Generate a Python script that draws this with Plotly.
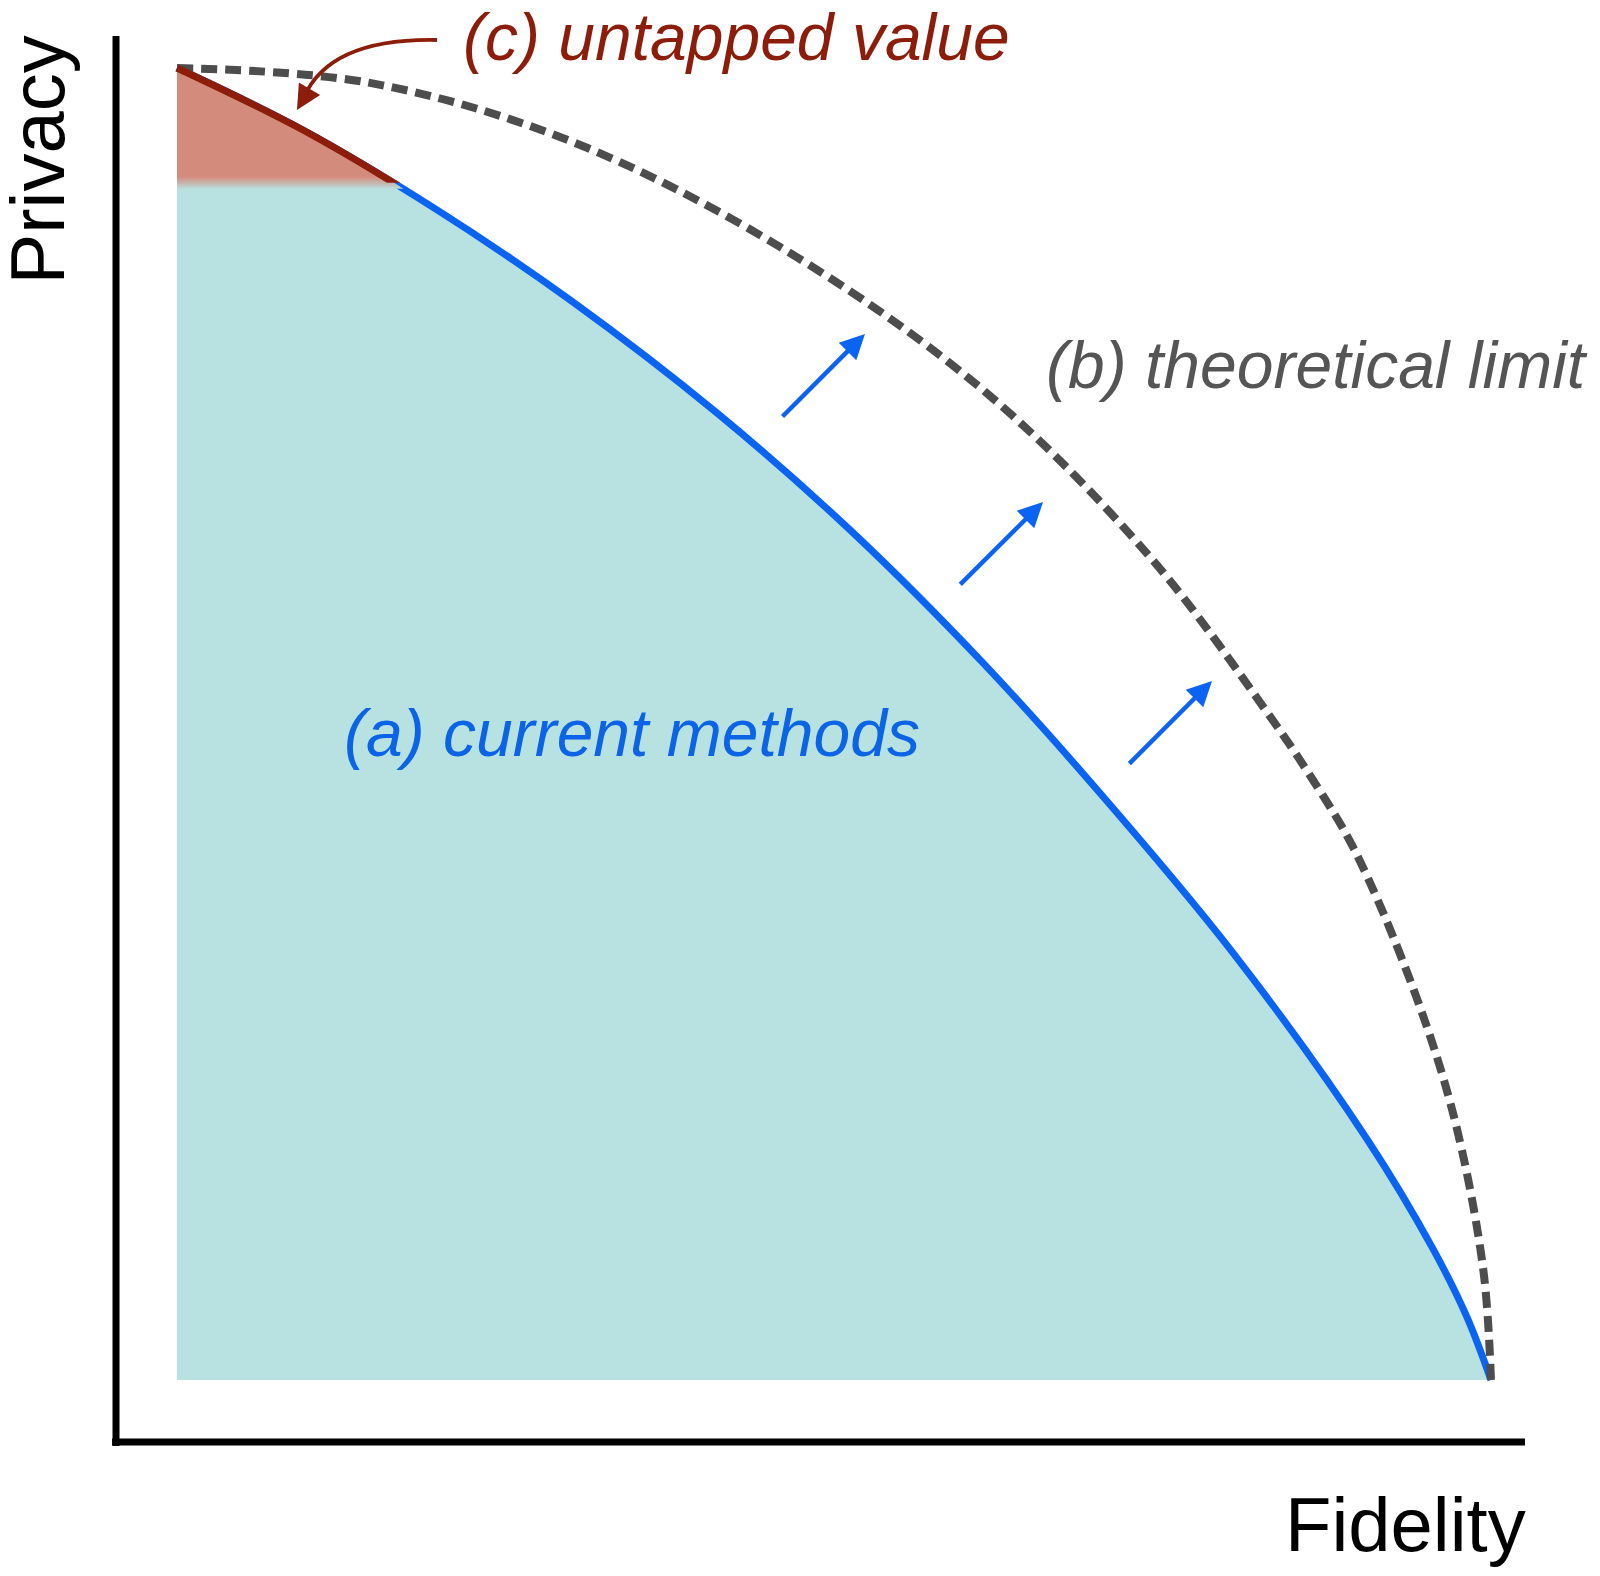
import plotly.graph_objects as go

# current methods frontier (blue), normalised fidelity / privacy
fidelity_current = [0.0, 0.0959, 0.1979, 0.2991, 0.411, 0.5122, 0.6134, 0.7024,
                    0.8037, 0.9056, 0.9559, 0.9817, 1.0]
privacy_current = [1.0, 0.9527, 0.8918, 0.8232, 0.737, 0.6479, 0.5465, 0.4474,
                   0.3255, 0.1837, 0.0999, 0.048, 0.0]

# theoretical limit (dashed)
fidelity_limit = [0.0, 0.1469, 0.2991, 0.4589, 0.6134, 0.7405, 0.8295, 0.8645, 0.895,
                  0.9384, 0.9711, 0.9939, 1.0]
privacy_limit = [1.0, 0.9886, 0.9444, 0.8636, 0.7546, 0.6273, 0.5091, 0.4573, 0.4062,
                 0.3049, 0.2035, 0.0861, 0.0]

# untapped value region (red) sits above this privacy band
untapped_top = 0.9165
untapped_bottom = 0.9080
red_line_end = 0.9125

# improvement arrows (tail -> head)
arrow_tail_x = [0.4597, 0.595, 0.7237]
arrow_tail_y = [0.7332, 0.6052, 0.4687]
arrow_head_x = [0.5236, 0.6591, 0.7877]
arrow_head_y = [0.7973, 0.6692, 0.5328]

BLUE = '#0b63f2'
DARK_RED = '#8c1d0b'
RED_FILL = (211, 139, 124)
TEAL_FILL = (184, 226, 225)
GREY = '#4d4d4d'
FONT = 'Liberation Sans, Arial, Helvetica, sans-serif'

XMIN, XMAX = -0.1286, 1.0769
YMIN, YMAX = -0.1433, 1.0457

fig = go.Figure()

# teal area under the current frontier
fig.add_trace(go.Scatter(x=fidelity_current, y=privacy_current, mode='lines',
                         line=dict(width=0, shape='spline'), fill='tozeroy',
                         fillcolor='rgb(%d,%d,%d)' % TEAL_FILL, hoverinfo='skip'))

# extra y axes whose plot area only covers the top of the chart, so the same
# curve drawn on them is clipped to the untapped region
clip_axes = {}


def clip_axis(level):
    n = len(clip_axes) + 2
    clip_axes['yaxis%d' % n] = dict(domain=[(level - YMIN) / (YMAX - YMIN), 1],
                                    range=[level, YMAX], anchor='x',
                                    visible=False, fixedrange=True)
    return 'y%d' % n


# red untapped fill, faded into the teal with thin bands
n_bands = 8
for i in range(n_bands):
    t = untapped_bottom + (untapped_top - untapped_bottom) * i / (n_bands - 1)
    k = 0.12 + 0.88 * i / (n_bands - 1)
    col = tuple(int(round(TEAL_FILL[j] + (RED_FILL[j] - TEAL_FILL[j]) * k)) for j in range(3))
    fig.add_trace(go.Scatter(x=fidelity_current, y=privacy_current, mode='lines',
                             line=dict(width=0, shape='spline'), fill='tozeroy',
                             fillcolor='rgb(%d,%d,%d)' % col, hoverinfo='skip',
                             xaxis='x', yaxis=clip_axis(t)))

# blue frontier line
fig.add_trace(go.Scatter(x=fidelity_current, y=privacy_current, mode='lines',
                         line=dict(color=BLUE, width=7, shape='spline'), hoverinfo='skip'))

# dark red part of the frontier (same curve, clipped)
fig.add_trace(go.Scatter(x=fidelity_current, y=privacy_current, mode='lines',
                         line=dict(color=DARK_RED, width=7, shape='spline'), hoverinfo='skip',
                         xaxis='x', yaxis=clip_axis(red_line_end)))

# theoretical limit
fig.add_trace(go.Scatter(x=fidelity_limit, y=privacy_limit, mode='lines',
                         line=dict(color=GREY, width=8, dash='16px,8px', shape='spline'),
                         hoverinfo='skip'))

# axes drawn as plain lines
axis_x0, axis_y0 = -0.0464, -0.0473
fig.add_shape(type='line', x0=axis_x0, x1=axis_x0, y0=axis_y0 - 0.003, y1=1.0244,
              line=dict(color='black', width=7))
fig.add_shape(type='line', x0=axis_x0 - 0.003, x1=1.0259, y0=axis_y0, y1=axis_y0,
              line=dict(color='black', width=7))

# blue arrows
for tx, ty, hx, hy in zip(arrow_tail_x, arrow_tail_y, arrow_head_x, arrow_head_y):
    fig.add_annotation(x=hx, y=hy, ax=tx, ay=ty, xref='x', yref='y', axref='x', ayref='y',
                       text='', showarrow=True, arrowhead=2, arrowsize=1.1, arrowwidth=4.5,
                       arrowcolor=BLUE, standoff=0, startstandoff=0)

# curved red arrow pointing at the untapped region
curve_start = (0.1979, 1.0213)
curve_ctrl = (0.1164, 1.0229)
curve_end = (0.0965, 0.9775)
fig.add_shape(type='path', xref='x', yref='y',
              path='M %f,%f Q %f,%f %f,%f' % (curve_start + curve_ctrl + curve_end),
              line=dict(color=DARK_RED, width=3.8))
fig.add_annotation(x=0.0913, y=0.968, ax=0.0975, ay=0.9785, xref='x', yref='y',
                   axref='x', ayref='y', text='', showarrow=True, arrowhead=2,
                   arrowsize=1.3, arrowwidth=3.8, arrowcolor=DARK_RED, standoff=0)

# labels
fig.add_annotation(x=0.4262, y=1.0235, text='<i>(c) untapped value</i>', showarrow=False,
                   font=dict(family=FONT, size=66, color=DARK_RED), xanchor='center', yanchor='middle')
fig.add_annotation(x=0.8675, y=0.7735, text='<i>(b) theoretical limit</i>', showarrow=False,
                   font=dict(family=FONT, size=66, color='#555555'), xanchor='center', yanchor='middle')
fig.add_annotation(x=0.346, y=0.4935, text='<i>(a) current methods</i>', showarrow=False,
                   font=dict(family=FONT, size=66, color='#0b63e6'), xanchor='center', yanchor='middle')
fig.add_annotation(x=-0.1065, y=0.9295, text='Privacy', showarrow=False, textangle=-90,
                   font=dict(family=FONT, size=76, color='black'), xanchor='center', yanchor='middle')
fig.add_annotation(x=0.9353, y=-0.1105, text='Fidelity', showarrow=False,
                   font=dict(family=FONT, size=76, color='black'), xanchor='center', yanchor='middle')

# the page adds an 8px body margin, so the figure is 16px smaller than the window
fig.update_layout(width=1584, height=1560, autosize=False,
                  margin=dict(l=0, r=0, t=0, b=0),
                  paper_bgcolor='white', plot_bgcolor='rgba(0,0,0,0)', showlegend=False,
                  xaxis=dict(range=[XMIN, XMAX], visible=False, fixedrange=True),
                  yaxis=dict(range=[YMIN, YMAX], visible=False, fixedrange=True),
                  **clip_axes)

fig.write_html('out.html')
